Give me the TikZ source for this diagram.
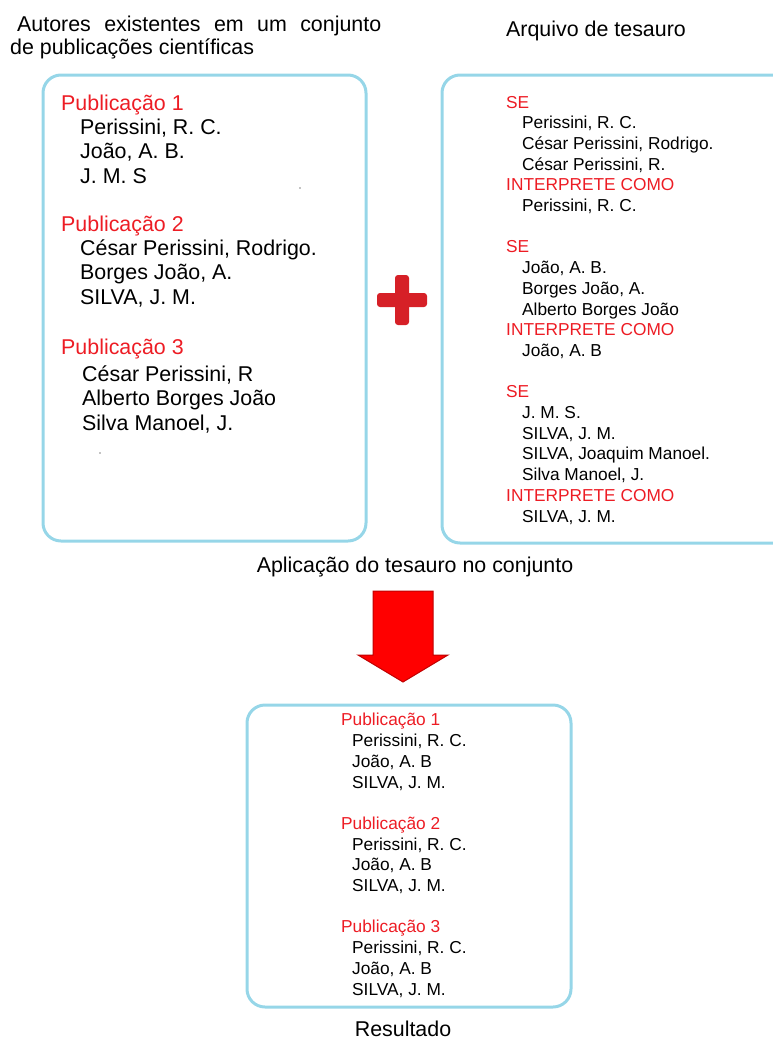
\documentclass[tikz,border=0pt]{standalone}
\usepackage{fontspec}
\setmainfont{Liberation Sans}
\usetikzlibrary{positioning}
\definecolor{boxblue}{RGB}{150,214,232}
\definecolor{pubred}{RGB}{237,28,36}
\definecolor{plusred}{RGB}{214,32,39}
\definecolor{arrowred}{RGB}{255,0,0}

\begin{document}
\begin{tikzpicture}[x=1pt, y=-1pt,
    box/.style={draw=boxblue, line width=3pt, rounded corners=18pt},
    % multi-line texts sit on the baseline of their last line
    bigtext/.style={anchor=base west, align=left, inner sep=0pt, font=\fontsize{21.4}{24.3}\selectfont},
    smalltext/.style={anchor=base west, align=left, inner sep=0pt, font=\fontsize{17.3}{20.7}\selectfont},
    title/.style={anchor=base, inner sep=0pt, font=\fontsize{21.4}{24}\selectfont}]
    \useasboundingbox (0,0) rectangle (773,1039);

    % titles
    \node[bigtext, font=\fontsize{21.4}{23}\selectfont] (autores) at (10,54)
        {\makebox[371pt][s]{\hspace*{7pt}Autores existentes em um conjunto}\\de publicações científicas};
    \node[title] (arquivo) at (596,36) {Arquivo de tesauro};
    \node[title] (aplicacao) at (415,572) {Aplicação do tesauro no conjunto};
    \node[title] (resultado) at (403,1036) {Resultado};

    % boxes
    \draw[box] (43,75) rectangle (366,541);
    \draw[box] (442,75) rectangle (800,543);
    \draw[box] (247,705) rectangle (571,1007);

    % Publicação 1
    \node[bigtext] (pubA) at (61,183) {\textcolor{pubred}{Publicação 1}\\
        \hspace*{19pt}Perissini, R. C.\\ \hspace*{19pt}João, A. B.\\ \hspace*{19pt}J. M. S};
    % Publicação 2
    \node[bigtext] (pubB) at (61,304) {\textcolor{pubred}{Publicação 2}\\
        \hspace*{19pt}César Perissini, Rodrigo.\\ \hspace*{19pt}Borges João, A.\\ \hspace*{19pt}SILVA, J. M.};
    % Publicação 3
    \node[bigtext] (pubC) at (61,430) {\textcolor{pubred}{Publicação 3}\\[2.7pt]
        \hspace*{21pt}César Perissini, R\\ \hspace*{21pt}Alberto Borges João\\ \hspace*{21pt}Silva Manoel, J.};
    \fill (300,188) circle (0.7);
    \fill (100,453) circle (0.7);

    % tesauro
    \node[smalltext] (tesauro) at (506,522) {\textcolor{pubred}{SE}\\
        \hspace*{16pt}Perissini, R. C.\\
        \hspace*{16pt}César Perissini, Rodrigo.\\
        \hspace*{16pt}César Perissini, R.\\
        \textcolor{pubred}{INTERPRETE COMO}\\
        \hspace*{16pt}Perissini, R. C.\\[20.7pt]
        \textcolor{pubred}{SE}\\
        \hspace*{16pt}João, A. B.\\
        \hspace*{16pt}Borges João, A.\\
        \hspace*{16pt}Alberto Borges João\\
        \textcolor{pubred}{INTERPRETE COMO}\\
        \hspace*{16pt}João, A. B\\[20.7pt]
        \textcolor{pubred}{SE}\\
        \hspace*{16pt}J. M. S.\\
        \hspace*{16pt}SILVA, J. M.\\
        \hspace*{16pt}SILVA, Joaquim Manoel.\\
        \hspace*{16pt}Silva Manoel, J.\\
        \textcolor{pubred}{INTERPRETE COMO}\\
        \hspace*{16pt}SILVA, J. M.};

    % plus
    \fill[plusred, rounded corners=3pt] (377,293) rectangle (427,307);
    \fill[plusred, rounded corners=3pt] (395,275) rectangle (409,325);

    % arrow down
    \filldraw[fill=arrowred, draw=red!75!black, line width=1pt]
        (373,591) -- (433,591) -- (433,655) -- (448,655) -- (403,682)
        -- (358,655) -- (373,655) -- cycle;

    % resultado
    \node[smalltext] (final) at (341,995) {\textcolor{pubred}{Publicação 1}\\
        \hspace*{11pt}Perissini, R. C.\\
        \hspace*{11pt}João, A. B\\
        \hspace*{11pt}SILVA, J. M.\\[20.7pt]
        \textcolor{pubred}{Publicação 2}\\
        \hspace*{11pt}Perissini, R. C.\\
        \hspace*{11pt}João, A. B\\
        \hspace*{11pt}SILVA, J. M.\\[20.7pt]
        \textcolor{pubred}{Publicação 3}\\
        \hspace*{11pt}Perissini, R. C.\\
        \hspace*{11pt}João, A. B\\
        \hspace*{11pt}SILVA, J. M.};
\end{tikzpicture}
\end{document}
